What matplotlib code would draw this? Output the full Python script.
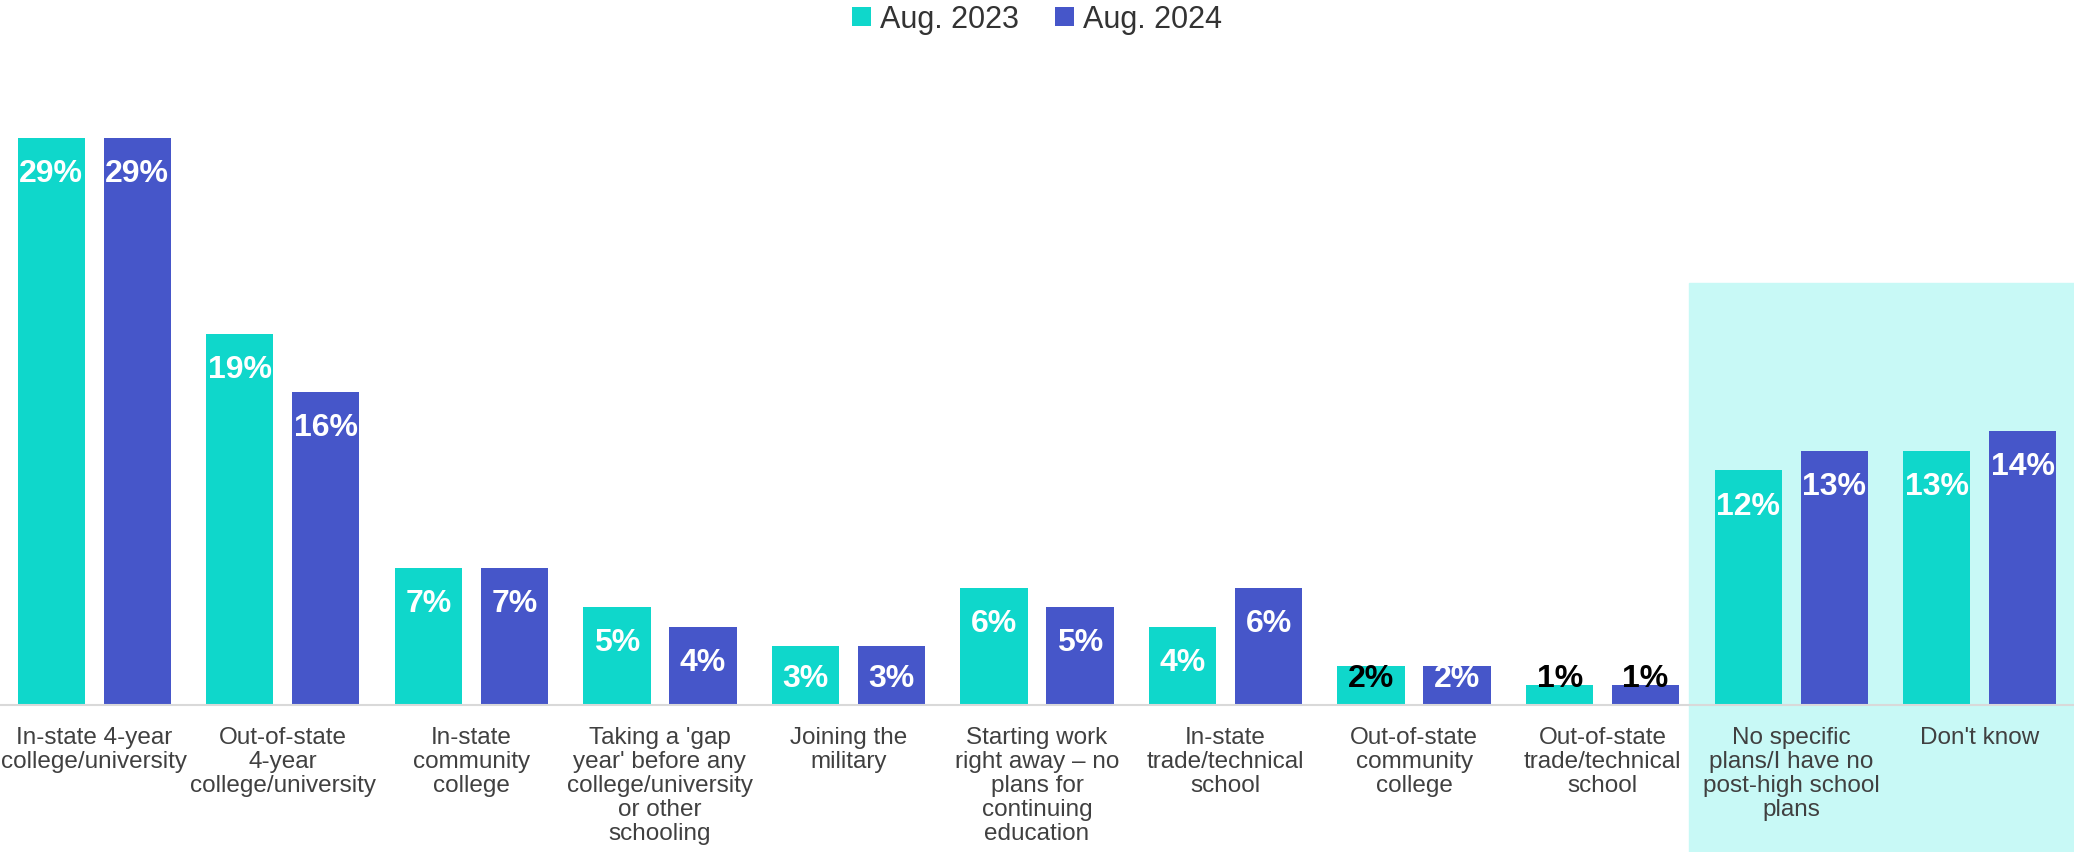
import matplotlib.pyplot as plt
import numpy as np
from matplotlib.patches import Rectangle

plt.rcParams['font.family'] = ['Liberation Sans', 'DejaVu Sans']

categories = ["In-state 4-year\ncollege/university",
              "Out-of-state\n4-year\ncollege/university",
              "In-state\ncommunity\ncollege",
              "Taking a 'gap\nyear' before any\ncollege/university\nor other\nschooling",
              "Joining the\nmilitary",
              "Starting work\nright away \u2013 no\nplans for\ncontinuing\neducation",
              "In-state\ntrade/technical\nschool",
              "Out-of-state\ncommunity\ncollege",
              "Out-of-state\ntrade/technical\nschool",
              "No specific\nplans/I have no\npost-high school\nplans",
              "Don't know"]
aug_2023 = [29, 19, 7, 5, 3, 6, 4, 2, 1, 12, 13]
aug_2024 = [29, 16, 7, 4, 3, 5, 6, 2, 1, 13, 14]
series_names = ["Aug. 2023", "Aug. 2024"]

teal = "#0FD7CB"
blue = "#4656C9"

fig = plt.figure(figsize=(20.74, 8.53), dpi=100)
ax = fig.add_axes([0, 1 - 706 / 853, 1, 567 / 853])

x = np.arange(len(categories))
w = 0.357
off = 0.228
b1 = ax.bar(x - off, aug_2023, w, color=teal, label=series_names[0], zorder=2)
b2 = ax.bar(x + off, aug_2024, w, color=blue, label=series_names[1], zorder=2)

# highlighted "no plans" area
ax.add_patch(Rectangle((8.46, -20), 3, 41.6, color="#C8F9F6", clip_on=False, zorder=0))

# value labels
for bars, vals, edge in [(b1, aug_2023, teal), (b2, aug_2024, blue)]:
    for i, (b, v) in enumerate(zip(bars, vals)):
        yl = max(v - 1.8, 1.4)
        col = "white"
        if v <= 1 or (v <= 2 and edge == teal):
            col = "black"
        ax.text(b.get_x() + b.get_width() / 2, yl, f"{v}%", ha="center", va="center",
                fontsize=23, fontweight="bold", color=col, zorder=3)

ax.set_xlim(-0.5, len(categories) - 0.5)
ax.set_ylim(0, 29)
ax.set_yticks([])
ax.set_xticks(x)
ax.set_xticklabels(categories, fontsize=17.5, color="#404040", linespacing=1.12)
ax.tick_params(axis="x", length=0, pad=15)
for s in ["top", "right", "left"]:
    ax.spines[s].set_visible(False)
ax.spines["bottom"].set_color("#D9D9D9")
ax.spines["bottom"].set_linewidth(1.5)
ax.patch.set_alpha(0)

fig.legend(handles=[b1, b2], loc="upper center", bbox_to_anchor=(0.5, 1.026), ncol=2,
           frameon=False, fontsize=22, handlelength=0.6, handleheight=0.6,
           handletextpad=0.3, columnspacing=1.2, labelcolor="#333333")

fig.savefig("out.png", dpi=100)
